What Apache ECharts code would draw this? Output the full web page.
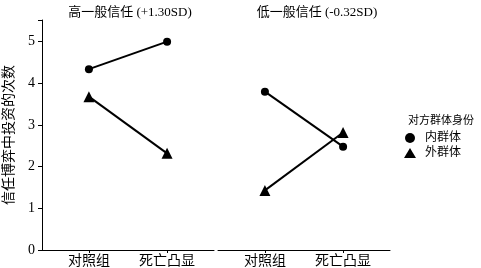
<!DOCTYPE html>
<html>
<head>
<meta charset="utf-8">
<script src="https://cdn.jsdelivr.net/npm/echarts@6/dist/echarts.min.js"></script>
<style>
  html, body { margin: 0; padding: 0; background: #fff; }
  #chart { width: 481px; height: 268px; }
</style>
</head>
<body>
<div id="chart"></div>
<script>
// categories and values
const categories = ['对照组', '死亡凸显'];
const panelTitles = ['高一般信任 (+1.30SD)', '低一般信任 (-0.32SD)'];
const groupNames = ['内群体', '外群体'];
const highIn = [4.34, 5.0];
const highOut = [3.68, 2.32];
const lowIn = [3.80, 2.48];
const lowOut = [1.43, 2.82];
const yTicks = [0, 1, 2, 3, 4, 5];

const FONT = '"Liberation Serif", "Noto Sans CJK SC", serif';

let chart = echarts.init(document.getElementById('chart'));

// pair category position (1, 2) with value
function points(vals) {
  return vals.map((v, i) => [i + 1, v]);
}

function xAxisFor(gridIndex) {
  return {
    type: 'value',
    gridIndex: gridIndex,
    min: 0.4,
    max: 2.6,
    splitLine: { show: false },
    axisLine: { show: true, onZero: false, lineStyle: { color: '#000', width: 1 } },
    axisTick: { show: true, length: 3, customValues: [1, 2], lineStyle: { color: '#000' } },
    axisLabel: {
      customValues: [1, 2],
      formatter: (v) => categories[Math.round(v) - 1] || '',
      color: '#000', fontFamily: FONT, fontSize: 14, margin: 4
    }
  };
}

function yAxisFor(gridIndex, visible) {
  return {
    type: 'value',
    gridIndex: gridIndex,
    min: 0,
    max: 5.52,
    interval: 1,
    show: visible,
    name: visible ? '信任博弈中投资的次数' : '',
    nameLocation: 'middle',
    nameGap: 26,
    nameTextStyle: { color: '#000', fontFamily: FONT, fontSize: 14 },
    splitLine: { show: false },
    axisLine: { show: true, lineStyle: { color: '#000', width: 1 } },
    axisTick: { show: true, length: 4, lineStyle: { color: '#000' } },
    axisLabel: {
      color: '#000', fontFamily: FONT, fontSize: 14, margin: 7,
      formatter: (v) => (yTicks.indexOf(v) >= 0 ? String(v) : '')
    }
  };
}

function lineSeries(name, vals, idx, symbol, size) {
  return {
    name: name,
    type: 'line',
    xAxisIndex: idx,
    yAxisIndex: idx,
    data: points(vals),
    symbol: symbol,
    symbolSize: size,
    lineStyle: { color: '#000', width: 2 },
    itemStyle: { color: '#000' },
    animation: false
  };
}

let option = {
  backgroundColor: '#fff',
  animation: false,
  title: [
    { text: panelTitles[0], left: 125, top: 1, textAlign: 'center',
      textStyle: { fontFamily: FONT, fontSize: 13, fontWeight: 'normal', color: '#000' } },
    { text: panelTitles[1], left: 312, top: 1, textAlign: 'center',
      textStyle: { fontFamily: FONT, fontSize: 13, fontWeight: 'normal', color: '#000' } },
    { text: '对方群体身份', left: 403, top: 111,
      textStyle: { fontFamily: FONT, fontSize: 11, fontWeight: 'normal', color: '#000' } }
  ],
  legend: {
    orient: 'vertical',
    left: 399,
    top: 127,
    itemGap: 3,
    itemWidth: 12,
    itemHeight: 10,
    textStyle: { fontFamily: FONT, fontSize: 12, color: '#000', padding: [0, 0, 0, 4] },
    data: [
      { name: groupNames[0], icon: 'circle' },
      { name: groupNames[1], icon: 'triangle' }
    ]
  },
  grid: [
    { left: 42, right: 267, top: 20, bottom: 18 },
    { left: 218, right: 91, top: 20, bottom: 18 }
  ],
  xAxis: [xAxisFor(0), xAxisFor(1)],
  yAxis: [yAxisFor(0, true), yAxisFor(1, false)],
  series: [
    lineSeries(groupNames[0], highIn, 0, 'circle', 8),
    lineSeries(groupNames[1], highOut, 0, 'triangle', 11),
    lineSeries(groupNames[0], lowIn, 1, 'circle', 8),
    lineSeries(groupNames[1], lowOut, 1, 'triangle', 11)
  ]
};

chart.setOption(option);
</script>
</body>
</html>
